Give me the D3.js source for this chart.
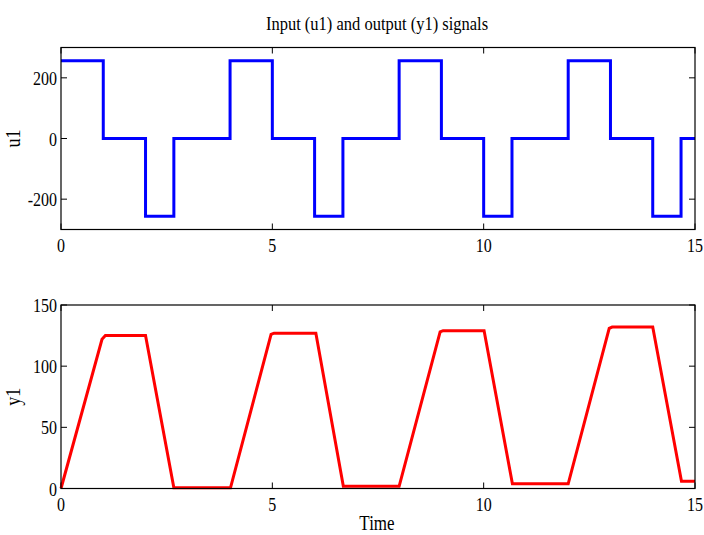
<!DOCTYPE html>
<html lang="en">
<head>
<meta charset="utf-8">
<title>Input (u1) and output (y1) signals</title>
<script src="https://d3js.org/d3.v7.min.js"></script>
<style>
  body { margin: 0; background: #fff; }
  text { font-family: "Liberation Serif", "Times New Roman", serif; fill: #000; font-size: 16px; }
</style>
</head>
<body>
<div id="chart"></div>
<script>
// input signal u1: step breakpoints (value holds until next time)
var uTime  = [0, 1, 2, 2.67, 4, 5, 6, 6.67, 8, 9, 10, 10.67, 12, 13, 14, 14.67, 15];
var uValue = [256, 0, -256, 0, 256, 0, -256, 0, 256, 0, -256, 0, 256, 0, -256, 0, 0];

// output signal y1
var yTime  = [0, 0.97, 1.05, 2, 2.67, 4.01, 4.97, 5.04, 6.03, 6.68, 8, 8.97, 9.04, 10.01, 10.68, 12, 12.97, 13.04, 14, 14.68, 15];
var yValue = [0, 122, 125, 125, 0.6, 0.6, 126, 127, 127, 1.8, 1.8, 128, 129, 129, 3.8, 3.8, 131, 132, 132, 6, 6];

var xTicks  = [0, 5, 10, 15];
var uTicks  = [-200, 0, 200];
var yTicks  = [0, 50, 100, 150];

var W = 704, H = 535;
var left = 61, right = 695;
var sy = 1.2; // the exported figure's text is a bit stretched vertically

var svg = d3.select("#chart").append("svg")
    .attr("width", W)
    .attr("height", H);

function label(parent, x, y, txt, anchor, rot) {
  var tr = "translate(" + x + "," + y + ")" + (rot ? " rotate(" + rot + ")" : "") + " scale(1," + sy + ")";
  return parent.append("text")
    .attr("transform", tr)
    .attr("text-anchor", anchor)
    .text(txt);
}

label(svg, 377, 30, "Input (u1) and output (y1) signals", "middle")
    .style("font-size", "16.5px");

function panel(top, bottom, domainY, ticksY, times, values, color, name, curve) {
  var x = d3.scaleLinear().domain([0, 15]).range([left, right]);
  var y = d3.scaleLinear().domain(domainY).range([bottom, top]);
  var g = svg.append("g");

  // tick marks inside, on all four sides (matlab style)
  var tl = 6;
  xTicks.forEach(function(t) {
    g.append("line").attr("x1", x(t)).attr("x2", x(t)).attr("y1", bottom).attr("y2", bottom - tl)
      .attr("stroke", "#000");
    g.append("line").attr("x1", x(t)).attr("x2", x(t)).attr("y1", top).attr("y2", top + tl)
      .attr("stroke", "#000");
    label(g, x(t), bottom + 22, t, "middle");
  });
  ticksY.forEach(function(t) {
    g.append("line").attr("x1", left).attr("x2", left + tl).attr("y1", y(t)).attr("y2", y(t))
      .attr("stroke", "#000");
    g.append("line").attr("x1", right).attr("x2", right - tl).attr("y1", y(t)).attr("y2", y(t))
      .attr("stroke", "#000");
    label(g, left - 4, y(t) + 7, t, "end");
  });

  var pts = times.map(function(t, i) { return [t, values[i]]; });
  var line = d3.line()
    .x(function(d) { return x(d[0]); })
    .y(function(d) { return y(d[1]); })
    .curve(curve);

  g.append("path")
    .datum(pts)
    .attr("fill", "none")
    .attr("stroke", color)
    .attr("stroke-width", 3)
    .attr("d", line);

  g.append("rect")
    .attr("x", left).attr("y", top)
    .attr("width", right - left).attr("height", bottom - top)
    .attr("fill", "none")
    .attr("stroke", "#000")
    .attr("stroke-width", 1.2);

  label(g, 20, (top + bottom) / 2, name, "middle", -90)
    .style("font-size", "18px");
}

panel(47.5, 229.5, [-300, 300], uTicks, uTime, uValue, "#0000ff", "u1", d3.curveStepAfter);
panel(305, 488.5, [0, 150], yTicks, yTime, yValue, "#ff0000", "y1", d3.curveLinear);

label(svg, 377, 530, "Time", "middle")
    .style("font-size", "17px");
</script>
</body>
</html>
